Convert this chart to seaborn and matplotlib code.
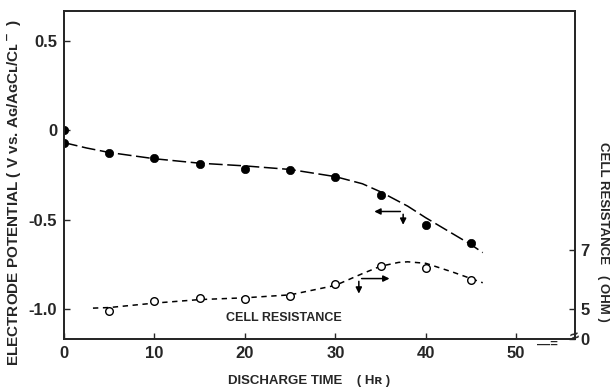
import matplotlib
matplotlib.use("Agg")
import matplotlib.pyplot as plt
import seaborn as sns
import pandas as pd

# ---- data ----
pot_time = [0, 0, 5, 10, 15, 20, 25, 30, 35, 40, 45]
pot_value = [0.0, -0.07, -0.13, -0.155, -0.19, -0.22, -0.225, -0.26, -0.365, -0.53, -0.63]

pot_curve_time = [0, 2.5, 5, 10, 15, 20, 25, 30, 33, 35, 38, 40, 43, 45, 46.3]
pot_curve_value = [-0.07, -0.10, -0.125, -0.16, -0.185, -0.20, -0.22, -0.26, -0.30, -0.345, -0.425,
                   -0.49, -0.58, -0.64, -0.685]

res_time = [5, 10, 15, 20, 25, 30, 35, 40, 45]
res_value = [4.93, 5.27, 5.36, 5.34, 5.44, 5.85, 6.47, 6.40, 5.98]

res_curve_time = [3.2, 5, 10, 15, 20, 25, 30, 33, 35, 37, 38, 40, 43, 46.3]
res_curve_value = [5.03, 5.05, 5.2, 5.32, 5.38, 5.48, 5.8, 6.2, 6.45, 6.58, 6.6, 6.55, 6.25, 5.89]

x_ticks = [0, 10, 20, 30, 40, 50]
y_ticks = [-1.0, -0.5, 0, 0.5]
y_tick_labels = ["-1.0", "-0.5", "0", "0.5"]
r_ticks = [5, 7]
r_tick_labels = ["5", "7"]

sns.set_style("ticks")
plt.rcParams["font.family"] = ["Liberation Sans", "DejaVu Sans"]
plt.rcParams["font.weight"] = "bold"
plt.rcParams["axes.labelweight"] = "bold"

FS = 9.5
TICK_FS = 12
fig = plt.figure(figsize=(6.12, 3.89), dpi=100)
ax = fig.add_axes([0.1046, 0.1285, 0.8349, 0.8432])

df_pc = pd.DataFrame({"t": pot_curve_time, "v": pot_curve_value})
df_p = pd.DataFrame({"t": pot_time, "v": pot_value})
sns.lineplot(data=df_pc, x="t", y="v", ax=ax, color="black", lw=1.1, sort=False,
             estimator=None)
ax.lines[-1].set_dashes([9, 3])
sns.scatterplot(data=df_p, x="t", y="v", ax=ax, color="black", s=36, edgecolor="black",
                linewidth=0.5, zorder=5)

ax.set_xlim(0, 56.5)
ax.set_ylim(-1.168, 0.666)
ax.set_xticks(x_ticks)
ax.set_xticklabels([str(t) for t in x_ticks])
ax.set_yticks(y_ticks)
ax.set_yticklabels(y_tick_labels)
ax.tick_params(direction="in", length=4, width=1, labelsize=TICK_FS, pad=5)
for s in ax.spines.values():
    s.set_linewidth(1.3)
ax.set_xlabel("")
ax.set_ylabel("")

ax2 = ax.twinx()
df_rc = pd.DataFrame({"t": res_curve_time, "r": res_curve_value})
df_r = pd.DataFrame({"t": res_time, "r": res_value})
sns.lineplot(data=df_rc, x="t", y="r", ax=ax2, color="black", lw=1.1, sort=False,
             estimator=None)
ax2.lines[-1].set_dashes([3.5, 3])
sns.scatterplot(data=df_r, x="t", y="r", ax=ax2, color="white", s=30, edgecolor="black",
                linewidth=1.0, zorder=5)
r_bottom = 5 - 30 / 29.5
r_top = 5 + 298 / 29.5
ax2.set_ylim(r_bottom, r_top)
ax2.set_yticks([r_bottom] + r_ticks)
ax2.set_yticklabels(["0"] + r_tick_labels)
ax2.tick_params(direction="in", length=4, width=1, labelsize=TICK_FS, pad=4)
ax2.set_ylabel("")
ax2.set_xlabel("")
for s in ax2.spines.values():
    s.set_linewidth(1.3)

# axis titles
fig.text(0.505, 0.02, "DISCHARGE TIME    ( Hʀ )", ha="center", va="center", fontsize=FS,
         fontweight="bold")
fig.text(0.023, 0.506, "ELECTRODE POTENTIAL ( V vs. Aɢ/AɢCʟ/Cʟ$^-$ )", ha="center", va="center",
         rotation=90, fontsize=11, fontweight="bold")
fig.text(0.985, 0.404, "CELL RESISTANCE   ( OHM )", ha="center", va="center",
         rotation=-90, fontsize=FS, fontweight="bold")

# arrows
ax.annotate("", xy=(34.0, -0.455), xytext=(37.5, -0.455),
            arrowprops=dict(arrowstyle="-|>", color="black", lw=1.1, mutation_scale=9))
ax.annotate("", xy=(37.5, -0.545), xytext=(37.5, -0.455),
            arrowprops=dict(arrowstyle="-|>", color="black", lw=1.1, mutation_scale=9))
ax.annotate("", xy=(36.3, -0.83), xytext=(32.6, -0.83),
            arrowprops=dict(arrowstyle="-|>", color="black", lw=1.1, mutation_scale=9))
ax.annotate("", xy=(32.6, -0.93), xytext=(32.6, -0.83),
            arrowprops=dict(arrowstyle="-|>", color="black", lw=1.1, mutation_scale=9))

ax.text(24.3, -1.05, "CELL RESISTANCE", ha="center", va="center", fontsize=9)

# axis break marks
ax.text(52.3, -1.168, "—=", transform=ax.transData, ha="left", va="top", fontsize=FS)
ax.text(1.0, 0.008, "≈", transform=ax.transAxes, ha="center", va="center", fontsize=11,
        rotation=20)

fig.savefig("out.png", dpi=100)
